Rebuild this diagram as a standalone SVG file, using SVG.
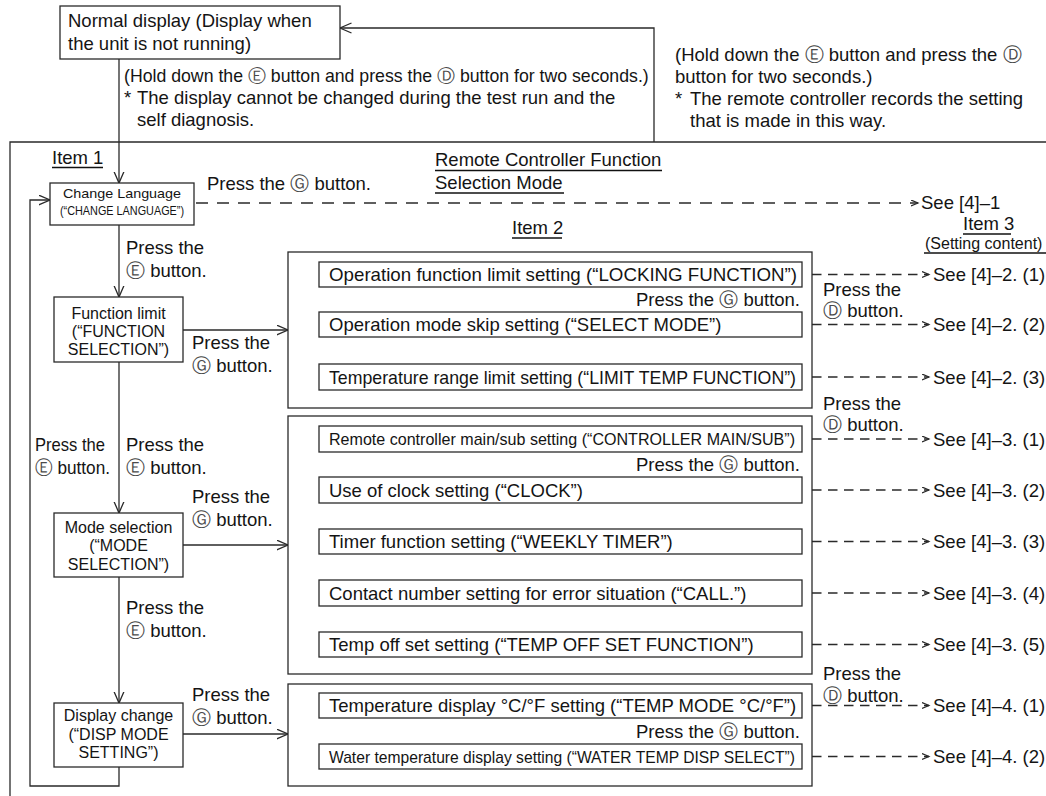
<svg xmlns="http://www.w3.org/2000/svg" width="1046" height="796" viewBox="0 0 1046 796">
<defs>
<style>
text{font-family:"Liberation Sans",Arial,"DejaVu Sans",sans-serif;font-size:18.5px;fill:#141414}
.b{font-size:16px}
.s{font-size:13.5px}
.n{font-size:17px}
.c{font-family:"DejaVu Sans",sans-serif;fill:#4a4a4a;font-size:19px}
.ln{fill:none;stroke:#2a2a2a;stroke-width:1.3}
.box{fill:#fff;stroke:#2a2a2a;stroke-width:1.3}
.ds{stroke-dasharray:9.5 6.5}
.dl{stroke-dasharray:12 9}
.u{stroke:#111;stroke-width:1.6}
.m{text-anchor:middle}
.e{text-anchor:end}
</style>
<marker id="a" markerUnits="userSpaceOnUse" markerWidth="14" markerHeight="12" refX="11.5" refY="5.5" orient="auto"><path d="M0,0.5 L11.5,5.5 L0,10.5" fill="none" stroke="#2a2a2a" stroke-width="1.3"/></marker>
<marker id="s" markerUnits="userSpaceOnUse" markerWidth="9" markerHeight="8" refX="7" refY="3.5" orient="auto"><path d="M0,0.5 L7,3.5 L0,6.5" fill="none" stroke="#2a2a2a" stroke-width="1.2"/></marker>
</defs>
<rect width="1046" height="796" fill="#fff"/>

<g id="connectors">
<path class="ln" d="M1046,142 H10 V796"/>
<path class="ln" d="M654,142 V28 H340" marker-end="url(#a)"/>
<path class="ln" d="M119,59 V183" marker-end="url(#a)"/>
<path class="ln" d="M119,225 V297" marker-end="url(#a)"/>
<path class="ln" d="M119,362 V513" marker-end="url(#a)"/>
<path class="ln" d="M119,577 V703" marker-end="url(#a)"/>
<path class="ln" d="M119,767 V786 H30 V200 H50" marker-end="url(#a)"/>
<path class="ln" d="M183,330 H288" marker-end="url(#a)"/>
<path class="ln" d="M183,545 H288" marker-end="url(#a)"/>
<path class="ln" d="M183,734 H288" marker-end="url(#a)"/>
<path class="ln dl" d="M196,203 H918" marker-end="url(#s)"/>
<path class="ln" d="M404,390 V397 H300 V274.5 H319" marker-end="url(#a)"/>
<path class="ln" d="M404,287 V312" marker-end="url(#a)"/>
<path class="ln" d="M404,337 V364" marker-end="url(#a)"/>
<path class="ln" d="M404,657 V664 H300 V439 H319" marker-end="url(#a)"/>
<path class="ln" d="M404,452 V477" marker-end="url(#a)"/>
<path class="ln" d="M404,503 V529" marker-end="url(#a)"/>
<path class="ln" d="M404,554 V580" marker-end="url(#a)"/>
<path class="ln" d="M404,606 V632" marker-end="url(#a)"/>
<path class="ln" d="M404,769 V776 H300 V705.5 H319" marker-end="url(#a)"/>
<path class="ln" d="M404,718 V744" marker-end="url(#a)"/>
<g class="ln ds">
<path d="M812,274.5 H929" marker-end="url(#s)"/>
<path d="M812,324.5 H929" marker-end="url(#s)"/>
<path d="M812,377 H929" marker-end="url(#s)"/>
<path d="M812,439 H929" marker-end="url(#s)"/>
<path d="M812,490 H929" marker-end="url(#s)"/>
<path d="M812,541.5 H929" marker-end="url(#s)"/>
<path d="M812,593 H929" marker-end="url(#s)"/>
<path d="M812,644.5 H929" marker-end="url(#s)"/>
<path d="M812,705.5 H929" marker-end="url(#s)"/>
<path d="M812,756.5 H929" marker-end="url(#s)"/>
</g>
</g>

<g id="normal-display">
<rect class="box" x="60" y="6" width="280" height="53"/>
<text x="68" y="27">Normal display (Display when</text>
<text x="68" y="50">the unit is not running)</text>
</g>

<g id="note-left">
<text x="124" y="82" style="font-size:17.7px">(Hold down the <tspan class="c" style="font-size:18px">Ⓔ</tspan> button and press the <tspan class="c" style="font-size:18px">Ⓓ</tspan> button for two seconds.)</text>
<text x="124" y="104">*</text>
<text x="137" y="104">The display cannot be changed during the test run and the</text>
<text x="137" y="126">self diagnosis.</text>
</g>

<g id="note-right">
<text x="675" y="61">(Hold down the <tspan class="c">Ⓔ</tspan> button and press the <tspan class="c">Ⓓ</tspan></text>
<text x="675" y="83">button for two seconds.)</text>
<text x="675" y="105">*</text>
<text x="690" y="105">The remote controller records the setting</text>
<text x="690" y="127">that is made in this way.</text>
</g>

<g id="headings">
<text x="52" y="164">Item 1</text>
<line class="u" x1="52" y1="167.5" x2="103" y2="167.5"/>
<text x="435" y="166">Remote Controller Function</text>
<line class="u" x1="435" y1="170.5" x2="662" y2="170.5"/>
<text x="435" y="189">Selection Mode</text>
<line class="u" x1="435" y1="193" x2="564" y2="193"/>
<text x="512" y="234">Item 2</text>
<line class="u" x1="512" y1="238" x2="562" y2="238"/>
<text x="963" y="230">Item 3</text>
<line class="u" x1="963" y1="234" x2="1011" y2="234"/>
<text x="925" y="249" style="font-size:16px">(Setting content)</text>
<line class="u" x1="924" y1="253" x2="1046" y2="253"/>
</g>

<g id="change-language">
<rect class="box" x="50" y="183" width="144" height="42"/>
<text class="s m" x="122" y="198" textLength="118" lengthAdjust="spacingAndGlyphs">Change Language</text>
<text class="s m" x="122" y="215" textLength="124" lengthAdjust="spacingAndGlyphs">(“CHANGE LANGUAGE”)</text>
</g>

<g id="function-limit">
<rect class="box" x="54" y="297" width="129" height="65"/>
<text class="b m" x="118.5" y="319">Function limit</text>
<text class="b m" x="118.5" y="337">(“FUNCTION</text>
<text class="b m" x="118.5" y="355">SELECTION”)</text>
</g>

<g id="mode-selection">
<rect class="box" x="54" y="513" width="129" height="64"/>
<text class="b m" x="118.5" y="533">Mode selection</text>
<text class="b m" x="118.5" y="551">(“MODE</text>
<text class="b m" x="118.5" y="570">SELECTION”)</text>
</g>

<g id="display-change">
<rect class="box" x="54" y="703" width="129" height="64"/>
<text class="b m" x="118.5" y="721">Display change</text>
<text class="b m" x="118.5" y="740">(“DISP MODE</text>
<text class="b m" x="118.5" y="758">SETTING”)</text>
</g>

<g id="labels">
<text x="207" y="190">Press the <tspan class="c">Ⓖ</tspan> button.</text>
<text x="126" y="254">Press the</text>
<text x="126" y="277"><tspan class="c">Ⓔ</tspan> button.</text>
<text x="192" y="349">Press the</text>
<text x="192" y="372"><tspan class="c">Ⓖ</tspan> button.</text>
<text x="35" y="451" textLength="70" lengthAdjust="spacingAndGlyphs">Press the</text>
<text x="35" y="474" textLength="75" lengthAdjust="spacingAndGlyphs"><tspan class="c">Ⓔ</tspan> button.</text>
<text x="126" y="451">Press the</text>
<text x="126" y="474"><tspan class="c">Ⓔ</tspan> button.</text>
<text x="192" y="503">Press the</text>
<text x="192" y="526"><tspan class="c">Ⓖ</tspan> button.</text>
<text x="126" y="614">Press the</text>
<text x="126" y="637"><tspan class="c">Ⓔ</tspan> button.</text>
<text x="192" y="701">Press the</text>
<text x="192" y="724"><tspan class="c">Ⓖ</tspan> button.</text>
<text x="823" y="296">Press the</text>
<text x="823" y="317"><tspan class="c">Ⓓ</tspan> button.</text>
<text x="823" y="410">Press the</text>
<text x="823" y="431"><tspan class="c">Ⓓ</tspan> button.</text>
<text x="823" y="680">Press the</text>
<text x="823" y="702"><tspan class="c">Ⓓ</tspan> button.</text>
<text x="921" y="209">See [4]–1</text>
</g>

<g id="group-function-limit">
<rect class="box" x="288" y="252" width="524" height="156"/>
<rect class="box" x="319" y="262" width="483" height="25"/>
<text x="329" y="281" textLength="468" lengthAdjust="spacingAndGlyphs">Operation function limit setting (“LOCKING FUNCTION”)</text>
<text class="e" x="800" y="306">Press the <tspan class="c">Ⓖ</tspan> button.</text>
<rect class="box" x="319" y="312" width="483" height="25"/>
<text x="329" y="331">Operation mode skip setting (“SELECT MODE”)</text>
<rect class="box" x="319" y="364" width="483" height="26"/>
<text x="329" y="383.5" textLength="467" lengthAdjust="spacingAndGlyphs">Temperature range limit setting (“LIMIT TEMP FUNCTION”)</text>
</g>

<g id="group-mode-selection">
<rect class="box" x="288" y="416" width="524" height="258"/>
<rect class="box" x="319" y="426" width="483" height="26"/>
<text class="n" x="329" y="445" textLength="466" lengthAdjust="spacingAndGlyphs">Remote controller main/sub setting (“CONTROLLER MAIN/SUB”)</text>
<text class="e" x="800" y="471">Press the <tspan class="c">Ⓖ</tspan> button.</text>
<rect class="box" x="319" y="477" width="483" height="26"/>
<text x="329" y="496.5">Use of clock setting (“CLOCK”)</text>
<rect class="box" x="319" y="529" width="483" height="25"/>
<text x="329" y="548">Timer function setting (“WEEKLY TIMER”)</text>
<rect class="box" x="319" y="580" width="483" height="26"/>
<text x="329" y="599.5">Contact number setting for error situation (“CALL.”)</text>
<rect class="box" x="319" y="632" width="483" height="25"/>
<text x="329" y="651">Temp off set setting (“TEMP OFF SET FUNCTION”)</text>
</g>

<g id="group-display-change">
<rect class="box" x="288" y="684" width="524" height="102"/>
<rect class="box" x="319" y="693" width="483" height="25"/>
<text x="329" y="712">Temperature display °C/°F setting (“TEMP MODE °C/°F”)</text>
<text class="e" x="800" y="737.5">Press the <tspan class="c">Ⓖ</tspan> button.</text>
<rect class="box" x="319" y="744" width="483" height="25"/>
<text class="n" x="329" y="763" textLength="466" lengthAdjust="spacingAndGlyphs">Water temperature display setting (“WATER TEMP DISP SELECT”)</text>
</g>

<g id="see-references">
<text x="933" y="281">See [4]–2. (1)</text>
<text x="933" y="331">See [4]–2. (2)</text>
<text x="933" y="383.5">See [4]–2. (3)</text>
<text x="933" y="445.5">See [4]–3. (1)</text>
<text x="933" y="496.5">See [4]–3. (2)</text>
<text x="933" y="548">See [4]–3. (3)</text>
<text x="933" y="599.5">See [4]–3. (4)</text>
<text x="933" y="651">See [4]–3. (5)</text>
<text x="933" y="712">See [4]–4. (1)</text>
<text x="933" y="763">See [4]–4. (2)</text>
</g>
</svg>
